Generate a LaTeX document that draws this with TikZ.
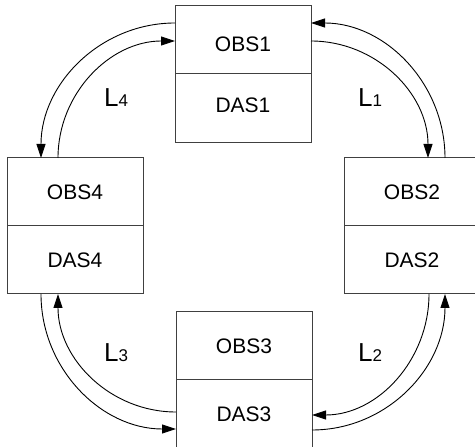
\documentclass[tikz,border=0pt]{standalone}
\usepackage{fontspec}
\setmainfont{Liberation Sans}
\usetikzlibrary{arrows.meta,calc}
\newcommand{\Lsub}[1]{{\fontsize{26}{26}\selectfont L}{\fontsize{17}{17}\selectfont #1}}
\begin{document}
\begin{tikzpicture}[x=1pt,y=1pt,
  half/.style={draw=black!75, line width=1pt, minimum width=136pt, minimum height=68pt,
    inner sep=0pt, outer sep=0pt, font=\fontsize{21}{21}\selectfont},
  link/.style={draw=black, line width=0.9pt, -{Triangle[length=14pt,width=9pt]}},
  lab/.style={anchor=base west, inner sep=0pt}]
\useasboundingbox (0,0) rectangle (475,447);
% boxes
\node[half, text height=23pt, text depth=0pt] (obs1) at (243,407) {OBS1};
\node[half, minimum height=69pt, text height=15pt, text depth=7pt] (das1) at (243,338.5) {DAS1};
\node[half] (obs4) at (75,255) {OBS4};
\node[half] (das4) at (75,187) {DAS4};
\node[half] (obs2) at (412,255) {OBS2};
\node[half] (das2) at (412,187) {DAS2};
\node[half] (obs3) at (244,101) {OBS3};
\node[half] (das3) at (244,33) {DAS3};
% links
\draw[link] ($(obs1.north west)+(0,-17)$) to[out=180,in=90] ($(obs4.north west)+(34,0)$);
\draw[link] ($(obs4.north west)+(51,0)$) to[out=90,in=180] ($(obs1.west)+(0,-1)$);
\draw[link] ($(obs2.north west)+(101,0)$) to[out=90,in=0] ($(obs1.north east)+(0,-17)$);
\draw[link] ($(obs1.east)+(0,-1)$) to[out=0,in=90] ($(obs2.north west)+(84,0)$);
\draw[link] ($(das3.east)+(0,-16)$) to[out=0,in=270] ($(das2.south west)+(101,0)$);
\draw[link] ($(das2.south west)+(85,0)$) to[out=270,in=0] ($(das3.east)+(0,-1)$);
\draw[link] ($(das4.south west)+(34,0)$) to[out=270,in=180] ($(das3.west)+(0,-15)$);
\draw[link] ($(das3.west)+(0,2)$) to[out=180,in=270] ($(das4.south west)+(51,0)$);
% labels
\node[lab] (l4) at (104,340) {\Lsub{4}};
\node[lab] (l1) at (358,340) {\Lsub{1}};
\node[lab] (l2) at (358,85) {\Lsub{2}};
\node[lab] (l3) at (104,85) {\Lsub{3}};
\end{tikzpicture}
\end{document}
